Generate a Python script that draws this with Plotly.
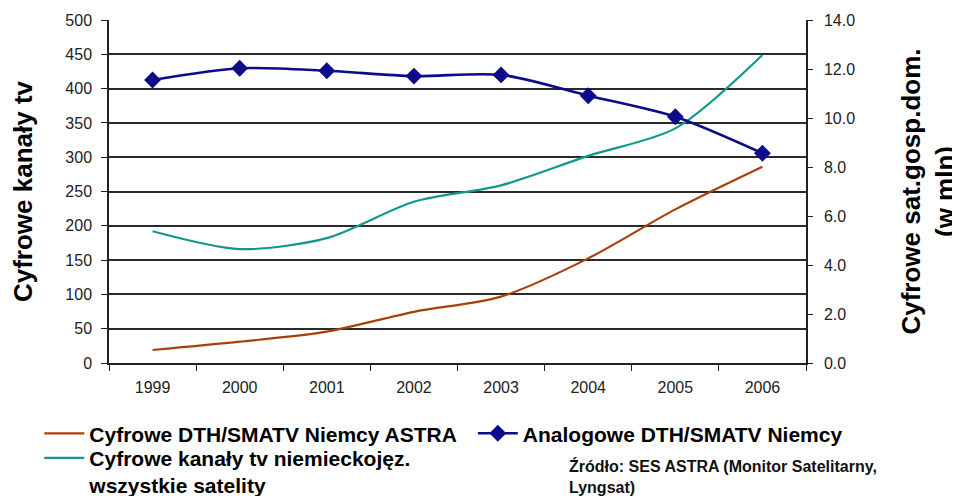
import plotly.graph_objects as go

years = ["1999", "2000", "2001", "2002", "2003", "2004", "2005", "2006"]
# right axis (mln households)
digital_astra = [0.53, 0.87, 1.28, 2.09, 2.71, 4.27, 6.27, 8.01]
analog_dth = [11.55, 12.03, 11.93, 11.71, 11.76, 10.91, 10.05, 8.56]
# left axis (channels)
digital_channels = [192, 166, 182, 235, 259, 302, 342, 449]

left_ticks = list(range(0, 501, 50))
right_ticks = [0, 2, 4, 6, 8, 10, 12, 14]

FONT = "Liberation Sans, Arial"

fig = go.Figure()
fig.add_trace(go.Scatter(x=years, y=digital_astra, yaxis="y2", mode="lines",
                         line=dict(color="#a8400c", width=2.2, shape="spline", smoothing=0.8),
                         name="Cyfrowe DTH/SMATV Niemcy ASTRA", legend="legend"))
fig.add_trace(go.Scatter(x=years, y=analog_dth, yaxis="y2", mode="lines+markers",
                         line=dict(color="#0c0c8a", width=2.6, shape="spline", smoothing=0.8),
                         marker=dict(symbol="diamond", size=13, color="#0c0c8a"),
                         name="Analogowe DTH/SMATV Niemcy", legend="legend2"))
fig.add_trace(go.Scatter(x=years, y=digital_channels, mode="lines",
                         line=dict(color="#139690", width=2.2, shape="spline", smoothing=0.8),
                         name="Cyfrowe kanały tv niemieckojęz.<br>wszystkie satelity",
                         legend="legend3"))

fig.add_annotation(x=0.657, y=-0.268, xref="paper", yref="paper", xanchor="left", yanchor="top",
                   text="Źródło: SES ASTRA (Monitor Satelitarny,<br>Lyngsat)", showarrow=False,
                   align="left", font=dict(family=FONT, size=16, color="#111", weight="bold"))

leg_font = dict(family=FONT, size=21, color="black", weight="bold")
leg_common = dict(xanchor="left", yanchor="middle", itemwidth=40, valign="top",
                  bgcolor="rgba(0,0,0,0)", font=leg_font)

# page has an 8px body margin, so the figure is 8px smaller than the window
fig.update_layout(
    width=952, height=488,
    margin=dict(l=101, r=154, t=12, b=133, autoexpand=False),
    paper_bgcolor="white", plot_bgcolor="white",
    font=dict(family=FONT, color="#222"),
    xaxis=dict(type="category", range=[-0.5, 7.5], showgrid=False, showline=True,
               linecolor="#222", linewidth=1.5, ticks="outside", tickson="boundaries",
               ticklen=6, tickcolor="#222", tickfont=dict(size=16), ticklabelstandoff=9),
    yaxis=dict(range=[0, 500], tickvals=left_ticks, showgrid=True, gridcolor="#2a2a2a",
               gridwidth=1.5, showline=True, linecolor="#222", linewidth=1.5, zeroline=False,
               ticks="outside", ticklen=6, tickcolor="#222", tickfont=dict(size=16),
               ticklabelstandoff=6,
               title=dict(text="Cyfrowe kanały tv", standoff=26,
                          font=dict(size=26, color="black", weight="bold"))),
    yaxis2=dict(range=[0, 14], tickvals=right_ticks, tickformat=".1f", overlaying="y",
                side="right", showgrid=False, showline=True, linecolor="#222", linewidth=1.5,
                zeroline=False, ticks="outside", ticklen=5, tickcolor="#222",
                tickfont=dict(size=16), ticklabelstandoff=8,
                title=dict(text="Cyfrowe sat.gosp.dom.<br>(w mln)", standoff=50,
                           font=dict(size=26, color="black", weight="bold"))),
    showlegend=True,
    legend=dict(x=-0.1, y=-0.206, **leg_common),
    legend2=dict(x=0.522, y=-0.206, **leg_common),
    legend3=dict(x=-0.1, y=-0.317, **leg_common),
)

fig.write_html("out.html")
